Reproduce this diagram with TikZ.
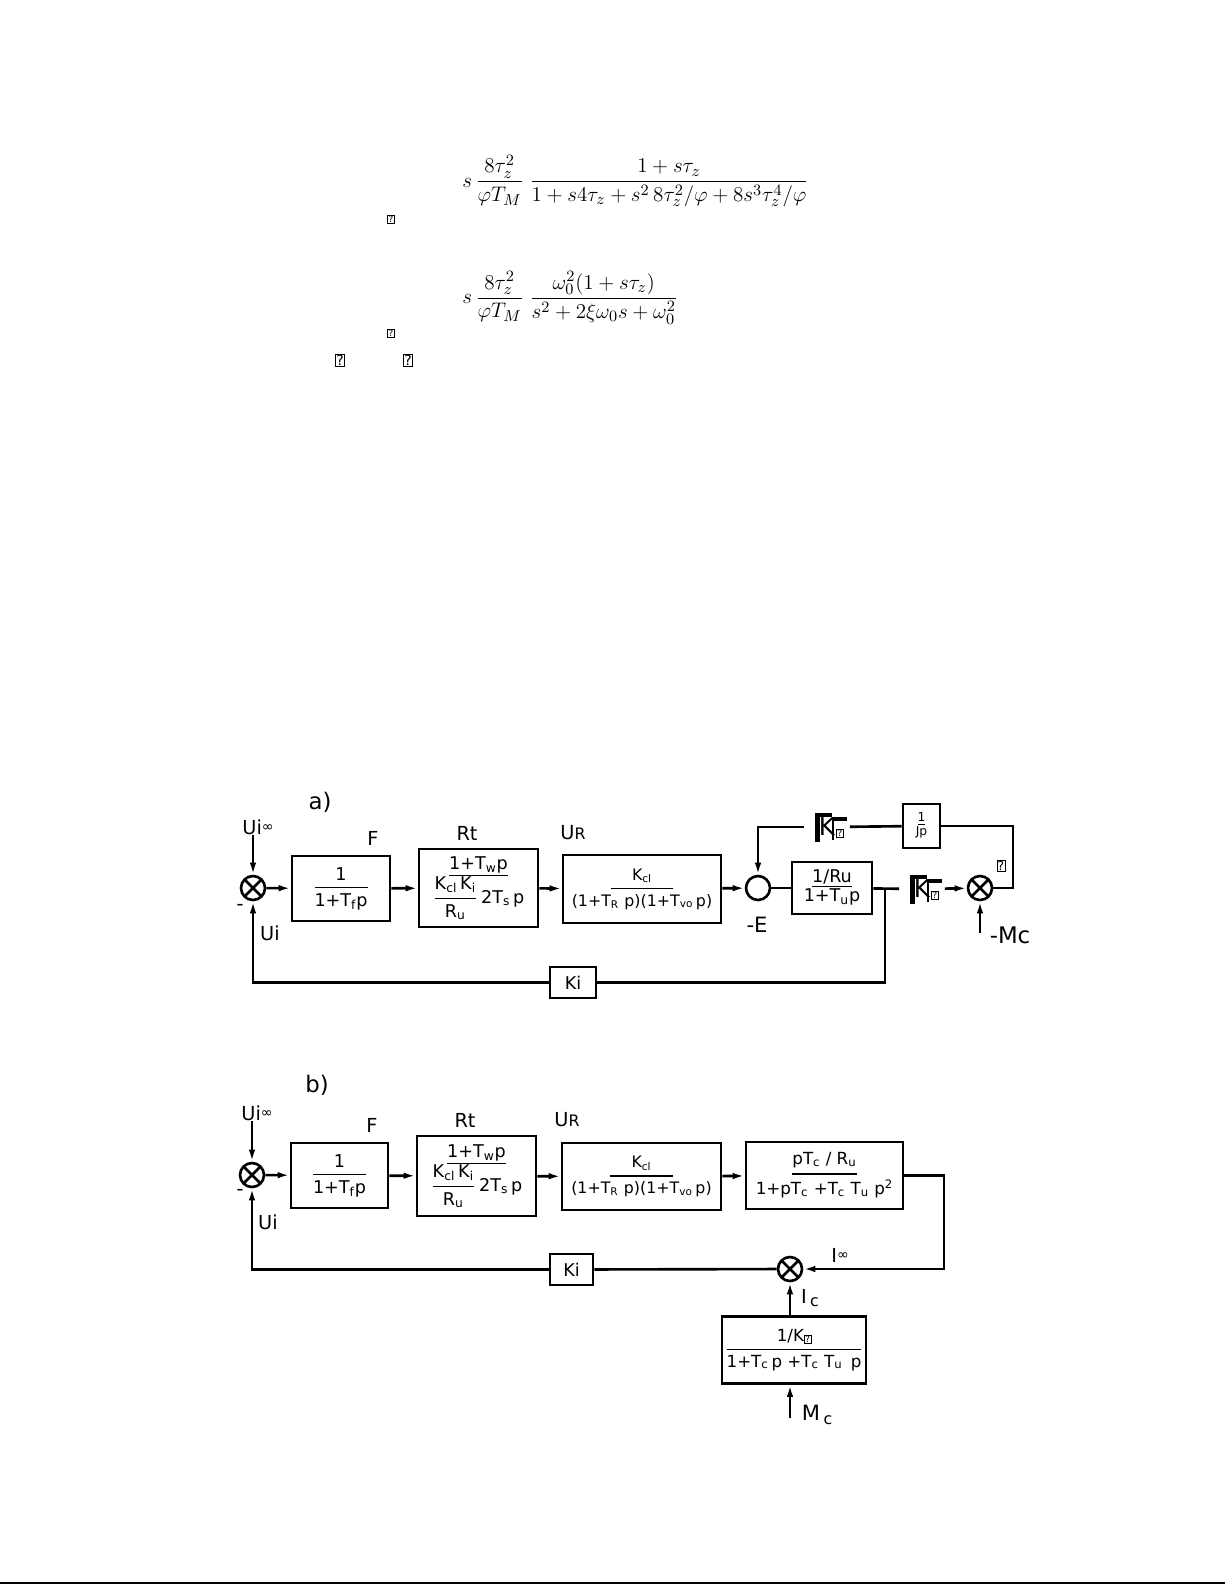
\documentclass[tikz,border=0pt]{standalone}
\usepackage{amsmath}
\usepackage{fontspec}
\setmainfont{DejaVu Sans}
\usetikzlibrary{arrows.meta}
\newcommand{\bfr}[2]{$\genfrac{}{}{0.9pt}{0}{\text{#1}}{\text{#2}}$}
\newcommand{\qbox}{\raisebox{-0.5pt}{\fboxsep=0.4pt\fboxrule=0.3pt\fbox{\fontsize{5}{5}\selectfont ?}}}
\newcommand{\infsym}{\raisebox{1.5pt}{\fontsize{8}{8}\selectfont ∞}}
\tikzstyle{block}  = [rectangle, draw, line width=1.5pt, text centered, inner sep=1pt, font=\fontsize{10}{11}\selectfont]
\tikzstyle{sum}    = [circle, draw, line width=1.5pt, minimum size=0.48cm, inner sep=0pt]
\tikzstyle{mult}   = [sum, path picture={\draw[line width=1.5pt] (path picture bounding box.north west) -- (path picture bounding box.south east) (path picture bounding box.south west) -- (path picture bounding box.north east);}]
\tikzstyle{lbl}    = [inner sep=0pt, font=\fontsize{11}{12}\selectfont]
\tikzstyle{tofu}   = [draw, line width=0.4pt, inner sep=0.5pt, font=\fontsize{5}{5}\selectfont]
\tikzstyle{kglyph} = [minimum width=0.9cm, minimum height=0.6cm, inner sep=0pt, font=\fontsize{14}{14}\selectfont]
\tikzstyle{single} = [draw, line width=1.5pt, -{Latex[length=2.4mm, width=1.3mm]}]
\tikzstyle{plain}  = [draw, line width=1.5pt]

\begin{document}
\begin{tikzpicture}[x=0.02cm, y=-0.02cm]
    \useasboundingbox (0,0) rectangle (1225,1585);
    % formulas
    \node[inner sep=0pt, anchor=west, font=\fontsize{12.5}{14}\selectfont](eqa) at (462,181)
        {$s\,\dfrac{8\tau_z^2}{\varphi T_M}\;\dfrac{1+s\tau_z}{1+s4\tau_z+s^2\,8\tau_z^2/\varphi+8s^3\tau_z^4/\varphi}$};
    \node[inner sep=0pt, anchor=west, font=\fontsize{12.5}{14}\selectfont](eqb) at (462,298)
        {$s\,\dfrac{8\tau_z^2}{\varphi T_M}\;\dfrac{\omega_0^2(1+s\tau_z)}{s^2+2\xi\omega_0 s+\omega_0^2}$};
    \node[tofu] at (391,219) {?};
    \node[tofu] at (391,333) {?};
    \node[tofu, font=\fontsize{8}{8}\selectfont] at (340,360) {?};
    \node[tofu, font=\fontsize{8}{8}\selectfont] at (408,360) {?};

    % a)
    \node[lbl, font=\fontsize{13}{13}\selectfont](capa) at (320,802) {a)};
    \node[lbl](uia) at (258,827) {Ui\infsym};
    \node[mult](s1a) at (253,888) {};
    \node[block, minimum width=1.96cm, minimum height=1.3cm](fa) at (341,888.5) {\bfr{1}{1+T\textsubscript{f}p}};
    \node[block, minimum width=2.38cm, minimum height=1.56cm](rta) at (478.5,888)
        {\begin{tabular}{@{}c@{}}\underline{1+T\textsubscript{w}p}\\[0pt]\bfr{K\textsubscript{cl}\,K\textsubscript{i}}{R\textsubscript{u}}\,2T\textsubscript{s}\,p\end{tabular}};
    \node[block, minimum width=3.16cm, minimum height=1.36cm, font=\fontsize{9}{10}\selectfont](ca) at (642,889)
        {\bfr{K\textsubscript{cl}}{\makebox[1.25cm]{(1+T\textsubscript{R}\,\,p)(1+T\textsubscript{vo}\,p)}}};
    \node[sum](s2a) at (758,888) {};
    \node[block, minimum width=1.6cm, minimum height=1.04cm](ua) at (832,888)
        {\begin{tabular}{@{}c@{}}\underline{1/Ru}\\1+T\textsubscript{u}p\end{tabular}};
    \node[kglyph](klow) at (922,889) {K};
    \node[mult](s3a) at (980,888) {};
    \node[block, minimum width=0.74cm, minimum height=0.88cm, font=\fontsize{7}{8}\selectfont](ja) at (921.5,826)
        {\begin{tabular}{@{}c@{}}\underline{1}\\Jp\end{tabular}};
    \node[kglyph](kup) at (827,827) {K};
    \node[block, minimum width=0.92cm, minimum height=0.62cm](kia) at (573,982.5) {Ki};
    \node[lbl](fla) at (373,838) {F};
    \node[lbl](rtla) at (467,833) {Rt};
    \node[lbl](urla) at (573,833) {U{\fontsize{9}{9}\selectfont R}};
    \node[lbl](mia) at (240,907) {-};
    \node[lbl](uifa) at (270,933) {Ui};
    \node[lbl, font=\fontsize{12}{12}\selectfont](ela) at (757,925) {-E};
    \node[lbl, font=\fontsize{13}{13}\selectfont](mcla) at (1010,935) {-Mc};
    \node[tofu, font=\fontsize{7}{7}\selectfont] at (1001,866) {?};
    \coordinate (mca) at (980,933);
    \coordinate (bra) at (885,888);
    \coordinate (rca) at (1013,826);

    \foreach \k in {kup,klow}{
        \begin{scope}[shift={(\k.center)}]
            \fill (-12,-14) rectangle (-7,15);
            \fill (-12,-14) rectangle (5,-10);
            \fill (5,-10) rectangle (7,13);
            \fill (5,-10) rectangle (20,-6);
            \node[tofu] at (13,6) {?};
        \end{scope}
    }

    \path[single](uia.south -| s1a) -- (s1a);
    \path[single](s1a) -- (fa);
    \path[single](fa) -- (rta);
    \path[single](rta) -- (ca);
    \path[single](ca) -- (s2a);
    \path[plain](s2a) -- (ua);
    \path[plain](ua) -- (klow);
    \path[single](klow) -- (s3a);
    \path[single](mca) -- (s3a);
    \path[plain](s3a) -| (rca) -- (ja);
    \path[plain](ja) -- (kup);
    \path[single](kup) -| (s2a);
    \path[plain](bra) |- (kia);
    \path[single](kia) -| (s1a);

    % b)
    \node[lbl, font=\fontsize{13}{13}\selectfont](capb) at (317,1085) {b)};
    \node[lbl](uib) at (257,1113) {Ui\infsym};
    \node[mult](s1b) at (252,1175) {};
    \node[block, minimum width=1.94cm, minimum height=1.3cm](fb) at (339.5,1175.5) {\bfr{1}{1+T\textsubscript{f}p}};
    \node[block, minimum width=2.38cm, minimum height=1.6cm](rtb) at (476.5,1176)
        {\begin{tabular}{@{}c@{}}\underline{1+T\textsubscript{w}p}\\[0pt]\bfr{K\textsubscript{cl}\,K\textsubscript{i}}{R\textsubscript{u}}\,2T\textsubscript{s}\,p\end{tabular}};
    \node[block, minimum width=3.18cm, minimum height=1.34cm, font=\fontsize{9}{10}\selectfont](cb) at (641.5,1176.5)
        {\bfr{K\textsubscript{cl}}{\makebox[1.25cm]{(1+T\textsubscript{R}\,\,p)(1+T\textsubscript{vo}\,p)}}};
    \node[block, minimum width=3.14cm, minimum height=1.34cm, font=\fontsize{9.5}{10}\selectfont](ub) at (824.5,1175.5)
        {\bfr{pT\textsubscript{c} / R\textsubscript{u}}{\makebox[1.22cm]{1+pT\textsubscript{c} +T\textsubscript{c} T\textsubscript{u} p\textsuperscript{2}}}};
    \node[mult](s2b) at (790,1269) {};
    \node[block, minimum width=0.86cm, minimum height=0.62cm](kib) at (571.5,1269.5) {Ki};
    \node[block, minimum width=2.88cm, minimum height=1.34cm, font=\fontsize{9.5}{10}\selectfont](mb) at (794,1350)
        {\bfr{1/K\qbox}{1+T\textsubscript{c}\,p +T\textsubscript{c} T\textsubscript{u}\, p}};
    \node[lbl](flb) at (372,1125) {F};
    \node[lbl](rtlb) at (465,1120) {Rt};
    \node[lbl](urlb) at (567,1120) {U{\fontsize{9}{9}\selectfont R}};
    \node[lbl](mib) at (240,1192) {-};
    \node[lbl](uifb) at (268,1222) {Ui};
    \node[lbl](ilb) at (840,1255) {I\infsym};
    \node[lbl](iclb) at (810,1298) {I\,\raisebox{-2pt}{\fontsize{9}{9}\selectfont c}};
    \node[lbl, font=\fontsize{12}{12}\selectfont](mclb) at (817,1415) {M\,\raisebox{-2pt}{\fontsize{9}{9}\selectfont c}};
    \coordinate (mcb) at (790,1418);
    \coordinate (rcb) at (944,1175.5);

    \path[single](uib.south -| s1b) -- (s1b);
    \path[single](s1b) -- (fb);
    \path[single](fb) -- (rtb);
    \path[single](rtb) -- (cb);
    \path[single](cb) -- (ub);
    \path[single](ub.east) -- (rcb) |- (s2b);
    \path[single](s2b |- mb.north) -- (s2b);
    \path[single](mcb) -- (mcb |- mb.south);
    \path[plain](s2b) -- (kib);
    \path[single](kib) -| (s1b);

    % page rule
    \draw[line width=1.2pt] (0,1583) -- (1225,1583);
\end{tikzpicture}
\end{document}
